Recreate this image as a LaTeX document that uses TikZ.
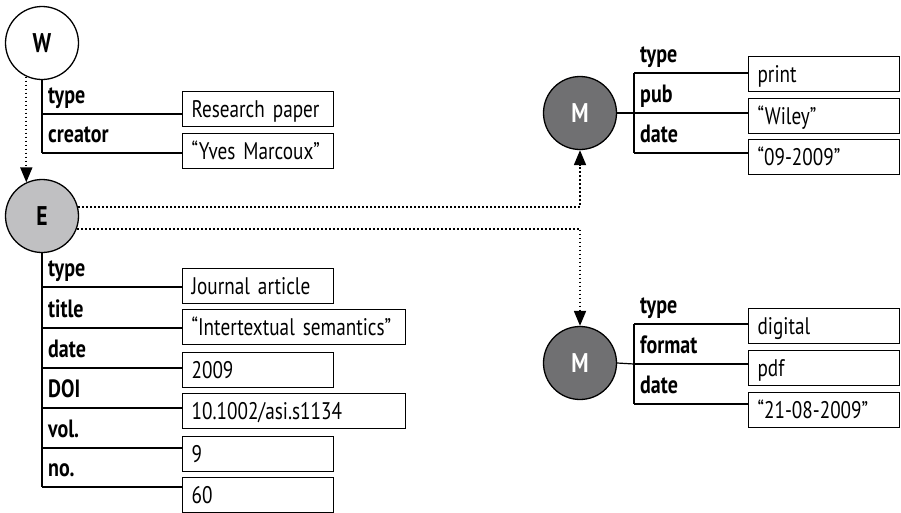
\documentclass[tikz,border=0pt]{standalone}
\usepackage{fontspec}
\setmainfont{PT Sans}[FakeStretch=0.8]
\usetikzlibrary{arrows.meta}
\definecolor{egray}{RGB}{192,192,194}
\definecolor{mgray}{RGB}{112,112,114}

\tikzset{
  ent/.style={circle,draw,line width=1.3pt,minimum size=73pt,inner sep=0pt,
    font=\bfseries\fontsize{27}{27}\selectfont},
  val/.style={draw,line width=1.2pt,anchor=north west,minimum height=35pt,
    text width=#1,inner xsep=9pt,text height=17pt,text depth=0pt,align=left,
    font=\fontsize{24}{26}\selectfont},
  val/.default=133pt,
  attr/.style={anchor=base west,inner sep=0pt,font=\bfseries\fontsize{25}{25}\selectfont},
  bar/.style={line width=1.2pt},
  link/.style={line width=1.8pt,dash pattern=on 1.8pt off 2.2pt,
    -{Triangle[length=15pt,width=12pt]}}
}

\begin{document}
\begin{tikzpicture}[x=1pt,y=-1pt]
  \useasboundingbox (0,0) rectangle (901,512);

  % entities
  \node[ent,fill=white] (W) at (42,43) {W};
  \node[ent,fill=egray] (E) at (42,216) {E};
  \node[ent,fill=mgray,text=white] (M1) at (580,113) {M};
  \node[ent,fill=mgray,text=white] (M2) at (580,363) {M};

  % work
  \foreach \lab/\val/\ly/\by [count=\i] in
    {type/Research paper/114/91, creator/“Yves Marcoux”/153/133}{
    \coordinate (wk\i) at (42,\ly);
    \node[attr] (wl\i) at (48,\ly-11) {\lab};
    \node[val] (w\i) at (182,\by) {\mbox{\val}};
    \draw[bar] (wk\i) -- (w\i.west |- wk\i);
  }
  \draw[bar] (W.south) -- (wk2);

  % expression
  \foreach \lab/\val/\ly/\by/\bw [count=\i] in
    {type/Journal article/287/268/133pt,
     title/“Intertextual semantics”/328/309/205pt,
     date/2009/368/352/133pt,
     DOI/{10.1002/asi.s1134}/408/393/205pt,
     vol./9/448/436/133pt,
     no./60/487/477/133pt}{
    \coordinate (ek\i) at (42,\ly);
    \node[attr] (el\i) at (48,\ly-11) {\lab};
    \node[val=\bw] (e\i) at (182,\by) {\mbox{\val}};
    \draw[bar] (ek\i) -- (e\i.west |- ek\i);
  }
  \draw[bar] (E.south) -- (ek6);

  % manifestations
  \foreach \lab/\val/\ly/\by [count=\i] in
    {type/print/73/56, pub/“Wiley”/113/98, date/“09-2009”/153/139}{
    \coordinate (ak\i) at (634,\ly);
    \node[attr] (al\i) at (640,\ly-11) {\lab};
    \node[val] (a\i) at (748,\by) {\mbox{\val}};
    \draw[bar] (ak\i) -- (a\i.west |- ak\i);
  }
  \draw[bar] (ak1) -- (ak3);
  \draw[bar] (M1.east) -- (ak2);

  \foreach \lab/\val/\ly/\by [count=\i] in
    {type/digital/324/308, format/pdf/364/350, date/“21-08-2009”/404/392}{
    \coordinate (bk\i) at (634,\ly);
    \node[attr] (bl\i) at (640,\ly-11) {\lab};
    \node[val] (b\i) at (748,\by) {\mbox{\val}};
    \draw[bar] (bk\i) -- (b\i.west |- bk\i);
  }
  \draw[bar] (bk1) -- (bk3);
  \draw[bar] (M2.east) -- (bk2);

  % realisation links
  \draw[link] (W.245) -- (W.245 |- E.115);
  \draw[link] (E.14) -| (M1.south);
  \draw[link] (E.-20) -| (M2.north);
\end{tikzpicture}
\end{document}
